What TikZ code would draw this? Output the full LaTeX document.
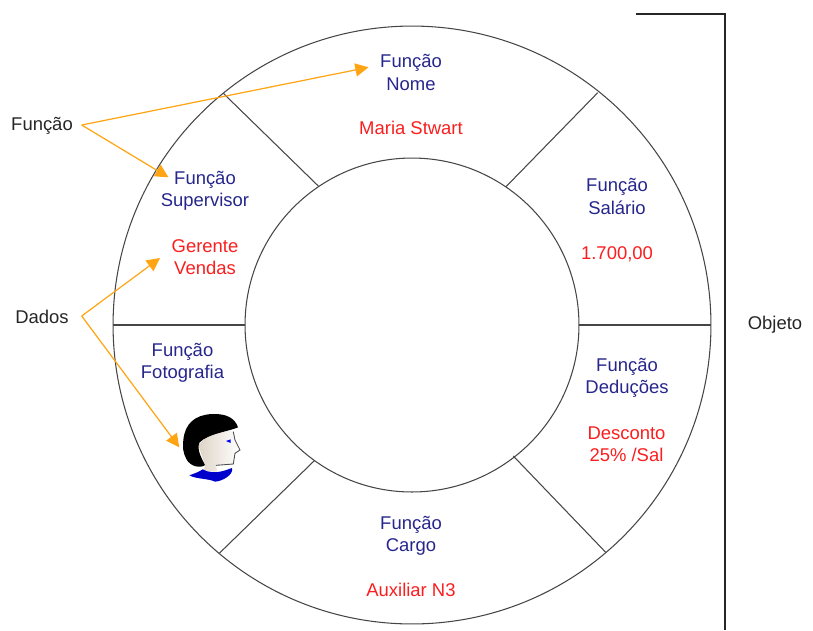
\documentclass[tikz,border=0pt]{standalone}
\usepackage{fontspec}
\setmainfont{Liberation Sans}
\usetikzlibrary{arrows.meta}
\definecolor{funcblue}{RGB}{38,38,140}
\definecolor{datared}{RGB}{250,30,30}
\definecolor{arroworange}{RGB}{255,165,20}
\definecolor{ringgray}{RGB}{70,70,70}
\definecolor{skintone}{RGB}{222,212,198}
\tikzset{
  ring/.style={circle,draw=ringgray,line width=0.6pt,inner sep=0pt,outer sep=0pt},
  spoke/.style={draw=ringgray,line width=0.6pt},
  functext/.style={text=funcblue,align=center,font=\fontsize{10.5}{12.6}\selectfont},
  datatext/.style={text=datared,align=center,font=\fontsize{10.5}{12.6}\selectfont},
  plaintext/.style={text=black!85,font=\fontsize{10.5}{12.6}\selectfont},
  pointer/.style={color=arroworange,line width=0.7pt,-{Triangle[length=7.5pt,width=7.5pt]}}
}
\begin{document}
\begin{tikzpicture}[x=0.02cm,y=-0.02cm]
\useasboundingbox (0,0) rectangle (813,630);
\node[ring,minimum size=11.96cm] (Pouter) at (412,325) {};
\node[ring,minimum size=6.68cm] (Pinner) at (412,325) {};

% spoke ends on the rings
\coordinate (Sa) at (223.3,93.3);
\coordinate (Sb) at (318.3,186);
\coordinate (Sc) at (597.7,92.7);
\coordinate (Sd) at (506,186.7);
\coordinate (Se) at (219.3,553.3);
\coordinate (Sf) at (314.3,460.7);
\coordinate (Sg) at (605.7,552.3);
\coordinate (Sh) at (513.3,456);
\path
(Sa) edge[spoke] (Sb)
(Sc) edge[spoke] (Sd)
(Pouter.180) edge[spoke] (Pinner.180)
(Pouter.0) edge[spoke] (Pinner.0)
(Se) edge[spoke] (Sf)
(Sg) edge[spoke] (Sh);

\node[functext] (Pnome) at (411,72.5) {Função\\Nome};
\node[datatext] (Dnome) at (411,128) {Maria Stwart};
\node[functext] (Psalario) at (617,196.5) {Função\\Salário};
\node[datatext] (Dsalario) at (617,254) {1.700,00};
\node[functext] (Pdeducoes) at (627,377.5) {Função\\Deduções};
\node[datatext] (Ddeducoes) at (626.5,444) {Desconto\\25\% /Sal};
\node[functext] (Pcargo) at (411,535.5) {Função\\Cargo};
\node[datatext] (Dcargo) at (411,590) {Auxiliar N3};
\node[functext] (Pfoto) at (182.5,362.5) {Função\\Fotografia};
\node[functext] (Psuper) at (205,190.5) {Função\\Supervisor};
\node[datatext] (Dsuper) at (205,257) {Gerente\\Vendas};
\node[plaintext] (Lfuncao) at (42,125.5) {Função};
\node[plaintext] (Ldados) at (42,317) {Dados};
\node[plaintext] (Lobjeto) at (775,325) {Objeto};

% pointer tips
\coordinate (Tnome) at (368.5,67.3);
\coordinate (Tsuper) at (168.5,177.3);
\coordinate (Tgerente) at (160,258);
\coordinate (Tfoto) at (179.3,447.3);
\coordinate (Ofuncao) at (81.7,125);
\coordinate (Odados) at (81.7,316);
\path
(Ofuncao) edge[pointer] (Tnome)
(Ofuncao) edge[pointer] (Tsuper)
(Odados) edge[pointer] (Tgerente)
(Odados) edge[pointer] (Tfoto);

% bracket
\coordinate (Ba) at (636,14);
\coordinate (Bb) at (725,14);
\coordinate (Bc) at (725,630);
\draw[line width=1.1pt,black!85] (Ba) -- (Bb) -- (Bc);

% face
\begin{scope}[shift={(140,390)},x=0.00667cm,y=-0.00667cm]
\shade[left color=skintone,right color=white]
 (175,165) -- (200,140) -- (250,120) -- (280,125) -- (285,150) -- (300,180) -- (285,190)
 -- (280,222) -- (228,226) -- (232,245) -- (190,245) -- (195,225) -- cycle;
\draw[black!70,line width=0.5pt] (280,125) -- (285,150) -- (300,180) -- (285,190) -- (280,222) -- (228,226);
\fill[black] (130,150) .. controls (135,100) and (165,75) .. (215,72)
 .. controls (260,70) and (285,85) .. (294,112)
 .. controls (265,125) and (205,130) .. (178,158)
 .. controls (170,180) and (185,205) .. (195,225)
 .. controls (185,235) and (150,232) .. (138,205)
 .. controls (128,185) and (128,170) .. (130,150) -- cycle;
\fill[blue!80!black] (148,256) .. controls (165,250) and (178,245) .. (188,238)
 .. controls (205,248) and (225,248) .. (240,245)
 .. controls (255,242) and (265,238) .. (276,234)
 .. controls (282,255) and (245,274) .. (225,275)
 .. controls (205,265) and (170,268) .. (148,256) -- cycle;
\fill[blue] (258,153) -- (272,148) -- (272,159) -- cycle;
\end{scope}
\end{tikzpicture}
\end{document}
